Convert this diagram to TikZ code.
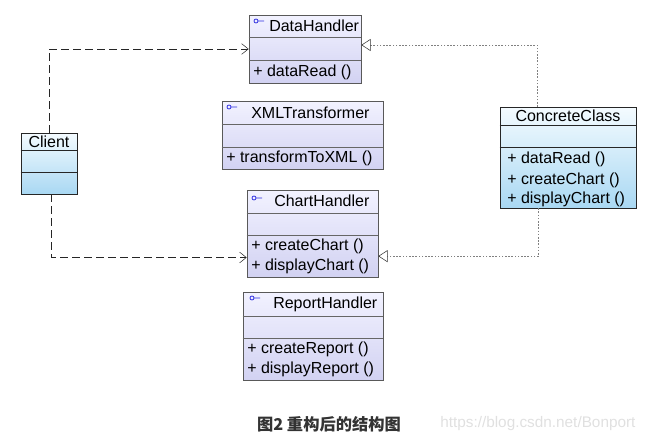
\documentclass[tikz,border=0pt]{standalone}
\usepackage{fontspec}
\setmainfont{Liberation Sans}
\newfontfamily\cjkfont{Noto Sans CJK SC}
\usetikzlibrary{arrows.meta,fit}

\definecolor{ifacetop}{HTML}{F2F2FF}
\definecolor{ifacebot}{HTML}{D2D2F2}
\definecolor{clstop}{HTML}{F4FBFF}
\definecolor{clsbot}{HTML}{A9D8F3}
\definecolor{iconblue}{HTML}{2F2FE0}

\tikzset{
  iface/.style={draw=black!65, top color=ifacetop, bottom color=ifacebot, inner sep=0pt},
  cls/.style={draw=black!85, top color=clstop, bottom color=clsbot, inner sep=0pt},
  row/.style={draw=black!60},
  txt/.style={inner sep=0pt, font=\fontsize{12}{14}\selectfont},
  icon/.style={draw=iconblue, line width=0.6pt},
  dep/.style={black!85, dash pattern=on 6pt off 3pt, -{Straight Barb[length=5pt,width=8pt]}},
  impl/.style={black!50, dash pattern=on 1.2pt off 1.2pt, -{Triangle[length=7pt,width=9pt,fill=white,color=black!80]}},
}

\begin{document}
\begin{tikzpicture}[x=0.75pt,y=-0.75pt]
\useasboundingbox (0,0) rectangle (651,439);

% boxes
\node[iface, fit={(249,15) (361,83)}] (dh) {};
\node[iface, fit={(222,101) (383,169)}] (xml) {};
\node[cls, fit={(21,133) (77,194)}] (client) {};
\node[cls, fit={(500,107) (636,208)}] (cc) {};
\node[iface, fit={(247,190) (378,277)}] (ch) {};
\node[iface, fit={(243,292) (383,380)}] (rh) {};

% compartments
\draw[row] (dh.west |- 0,37) -- (dh.east |- 0,37);
\draw[row] (dh.west |- 0,60) -- (dh.east |- 0,60);
\draw[row] (xml.west |- 0,124) -- (xml.east |- 0,124);
\draw[row] (xml.west |- 0,147) -- (xml.east |- 0,147);
\draw[black!85] (client.west |- 0,150) -- (client.east |- 0,150);
\draw[black!85] (client.west |- 0,172) -- (client.east |- 0,172);
\draw[black!85] (cc.west |- 0,125) -- (cc.east |- 0,125);
\draw[black!85] (cc.west |- 0,147) -- (cc.east |- 0,147);
\draw[row] (ch.west |- 0,213) -- (ch.east |- 0,213);
\draw[row] (ch.west |- 0,235) -- (ch.east |- 0,235);
\draw[row] (rh.west |- 0,316) -- (rh.east |- 0,316);
\draw[row] (rh.west |- 0,338) -- (rh.east |- 0,338);

% interface icons
\draw[icon] (256,21) circle (2) (258,21) -- (264,21);
\draw[icon] (229,107) circle (2) (231,107) -- (237,107);
\draw[icon] (254,198) circle (2) (256,198) -- (262,198);
\draw[icon] (252,298) circle (2) (254,298) -- (260,298);

% texts
\node[txt, anchor=west] (dh-t) at (269,26) {DataHandler};
\node[txt, anchor=west] (dh-m) at (253,72) {+ dataRead ()};
\node[txt, anchor=west] (xml-t) at (251,113) {XMLTransformer};
\node[txt, anchor=west] (xml-m) at (226,158) {+ transformToXML ()};
\node[txt] (client-t) at (49,142) {Client};
\node[txt] (cc-t) at (568,116) {ConcreteClass};
\node[txt, anchor=west] (cc-m1) at (507,159) {+ dataRead ()};
\node[txt, anchor=west] (cc-m2) at (507,180) {+ createChart ()};
\node[txt, anchor=west] (cc-m3) at (507,199) {+ displayChart ()};
\node[txt, anchor=west] (ch-t) at (274,201) {ChartHandler};
\node[txt, anchor=west] (ch-m1) at (251,246) {+ createChart ()};
\node[txt, anchor=west] (ch-m2) at (251,266) {+ displayChart ()};
\node[txt, anchor=west] (rh-t) at (273,304) {ReportHandler};
\node[txt, anchor=west] (rh-m1) at (247,349) {+ createReport ()};
\node[txt, anchor=west] (rh-m2) at (247,369) {+ displayReport ()};

% connectors
\draw[dep] (client.north) |- (dh.west);
\draw[dep] ([xshift=2pt]client.south) |- ([yshift=-18pt]ch.west);
\draw[impl] ([xshift=-23pt]cc.north) |- ([yshift=3pt]dh.east);
\draw[impl] ([xshift=-22pt]cc.south) |- ([yshift=-17pt]ch.east);

% caption
\node[inner sep=0pt, text=black!80, font=\cjkfont\bfseries\fontsize{12.2}{15}\selectfont] (cap) at (329,424) {图2 重构后的结构图};
\node[inner sep=0pt, anchor=west, text=black!12, font=\fontsize{11.5}{14}\selectfont] (wm) at (440,424) {https://blog.csdn.net/Bonport};

\end{tikzpicture}
\end{document}
